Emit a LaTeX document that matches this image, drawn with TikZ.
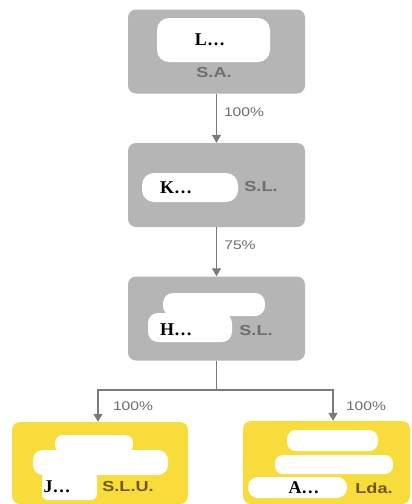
\documentclass[tikz,border=0pt]{standalone}
\usepackage{fontspec}
\setmainfont{Liberation Serif}
\setsansfont{Liberation Sans}
\usetikzlibrary{arrows.meta}
\definecolor{boxgray}{HTML}{B5B5B5}
\definecolor{boxyellow}{HTML}{F8DC3C}
\definecolor{graytext}{HTML}{6E6E6E}
\definecolor{yellowtext}{HTML}{6A5A14}
\definecolor{arrowgray}{HTML}{7A7A7A}
\newcommand{\wide}[1]{\scalebox{1.25}[1]{#1}}
\begin{document}
\begin{tikzpicture}[x=1pt,y=-1pt,
  graybox/.style={draw=none, fill=boxgray, rounded corners=8pt, minimum width=177pt, minimum height=84pt, inner sep=0pt},
  yellowbox/.style={draw=none, fill=boxyellow, rounded corners=8pt, inner sep=0pt},
  blob/.style={fill=white, rounded corners=9pt},
  redact/.style={font=\fontsize{18}{18}\selectfont\bfseries, text=black, inner sep=0pt},
  suffix/.style={font=\fontsize{14.5}{14.5}\sffamily\bfseries, text=graytext, inner sep=0pt},
  ysuffix/.style={font=\fontsize{14.5}{14.5}\sffamily\bfseries, text=yellowtext, inner sep=0pt},
  pct/.style={font=\fontsize{12.5}{12.5}\sffamily, text=graytext, inner sep=0pt},
  arr/.style={draw=arrowgray, line width=1.2pt, -{Triangle[width=9pt,length=8pt]}},
  conn/.style={draw=arrowgray, line width=1.2pt}]
\fill[white] (0,0) rectangle (412,504);
\useasboundingbox (0,0) rectangle (412,504);

% boxes
\node[graybox] (b1) at (216.5,51.5) {};
\node[graybox] (b2) at (216.5,185) {};
\node[graybox] (b3) at (216.5,318.5) {};
\node[yellowbox, minimum width=176pt, minimum height=82pt] (b4) at (100,463) {};
\node[yellowbox, minimum width=167pt, minimum height=83pt] (b5) at (326.5,462.5) {};

% redaction blobs
\fill[blob, rounded corners=12pt] (157,18) rectangle (270,62);
\fill[blob, rounded corners=12pt] (142,173) rectangle (238,202);
\fill[blob, rounded corners=10pt] (163,293) rectangle (265,316);
\fill[blob, rounded corners=10pt] (148,313) rectangle (232,342);
\fill[blob, rounded corners=8pt] (55,435) rectangle (133,453);
\fill[blob, rounded corners=10pt] (33,450) rectangle (168,475);
\fill[blob, rounded corners=6pt] (42,472) rectangle (97,500);
\fill[blob, rounded corners=9pt] (287,430) rectangle (378,451);
\fill[blob, rounded corners=8pt] (275,455) rectangle (393,474);
\fill[blob, rounded corners=10pt] (248,477) rectangle (347,498);

% texts
\node[redact] (t1) at (210,40) {L…};
\node[suffix] (s1) at (214,73) {\wide{S.A.}};
\node[redact] (t2) at (176,188) {K…};
\node[suffix] (s2) at (261,187) {\wide{S.L.}};
\node[redact] (t3) at (176,330) {H…};
\node[suffix] (s3) at (256,331) {\wide{S.L.}};
\node[redact] (t4) at (57,487) {J…};
\node[ysuffix] (s4) at (128,487) {\wide{S.L.U.}};
\node[redact] (t5) at (304,488) {A…};
\node[ysuffix] (s5) at (374,488) {\wide{Lda.}};

% connectors
\draw[arr] (b1.south) -- (b2.north);
\draw[arr] (b2.south) -- (b3.north);
\coordinate (split) at (216.5,390);
\draw[conn] (b3.south) -- (split);
\draw[arr] (split) -| ([xshift=-2pt]b4.north);
\draw[arr] (split) -| ([xshift=6.5pt]b5.north);

% percentages
\node[pct] (p1) at (244,112) {\wide{100\%}};
\node[pct] (p2) at (240,245) {\wide{75\%}};
\node[pct] (p3) at (133,406) {\wide{100\%}};
\node[pct] (p4) at (366,406) {\wide{100\%}};
\end{tikzpicture}
\end{document}
